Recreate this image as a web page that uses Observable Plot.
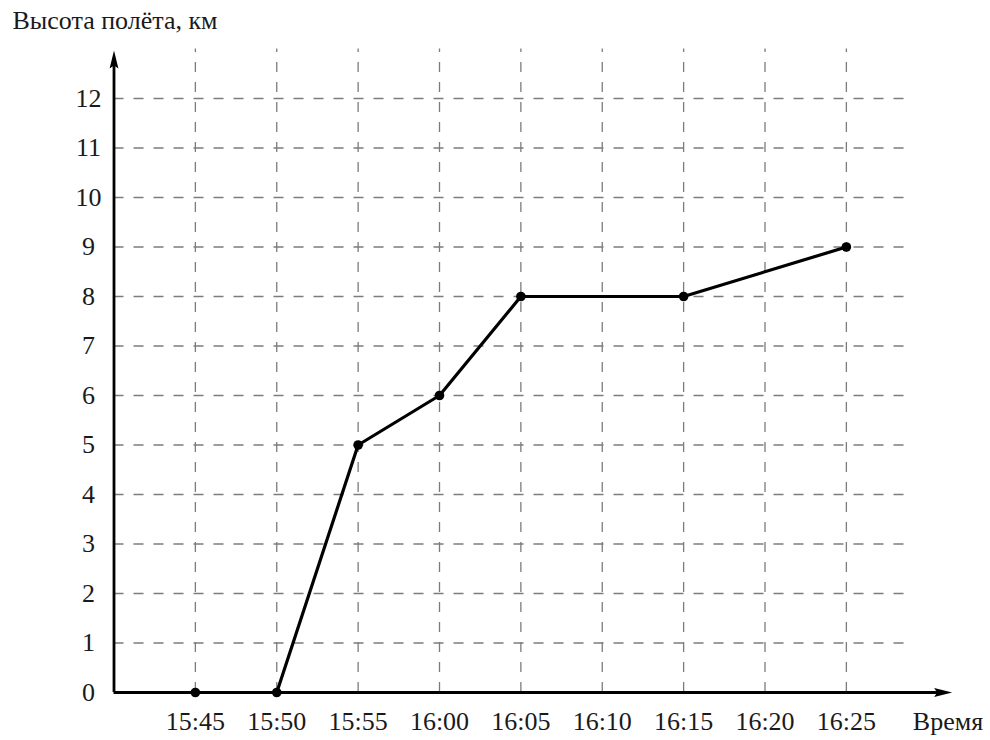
<!DOCTYPE html>
<html>
<head>
<meta charset="utf-8">
<script src="https://cdn.jsdelivr.net/npm/d3@7"></script>
<script src="https://cdn.jsdelivr.net/npm/@observablehq/plot@0.6"></script>
<style>
  html, body { margin: 0; padding: 0; background: #fff; }
  #chart svg, #chart svg text { font-family: "Liberation Serif", "Times New Roman", "DejaVu Serif", serif !important; }
</style>
</head>
<body>
<div id="chart"></div>
<script>
// Data
const times = ["15:45", "15:50", "15:55", "16:00", "16:05", "16:15", "16:25"];
const heights = [0, 0, 5, 6, 8, 8, 9];
const xTickLabels = ["15:45", "15:50", "15:55", "16:00", "16:05", "16:10", "16:15", "16:20", "16:25"];
const yTicks = [0, 1, 2, 3, 4, 5, 6, 7, 8, 9, 10, 11, 12];
const title = "Высота полёта, км";
const xTitle = "Время";

// minutes since 15:40 (origin of the axes)
const toMin = s => { const [h, m] = s.split(":").map(Number); return (h - 15) * 60 + m - 40; };
const data = times.map((t, i) => ({ x: toMin(t), y: heights[i] }));
const xTicks = xTickLabels.map((s) => ({ x: toMin(s), label: s }));

const xMax = 52, yMax = 13;
const gridXEnd = 48.6;   // horizontal grid end (minutes)
const axisXEnd = 51.5;   // x-axis arrow tip
const axisYEnd = 12.97;  // y-axis arrow tip

const font = "Liberation Serif";
const fs = 26;
const ink = "#1a1a1a";

// narrow filled arrowhead, tip at the anchor point, pointing up
const arrowHead = {
  draw(context) {
    context.moveTo(0, 0);
    context.lineTo(4.4, 18);
    context.lineTo(0, 15);
    context.lineTo(-4.4, 18);
    context.closePath();
  }
};

const W = 990, H = 740, left = 113.5, bottom = 48;
const pxPerMin = 16.275, pxPerKm = 49.5;

const chart = Plot.plot({
  width: W,
  height: H,
  marginLeft: left,
  marginBottom: bottom,
  marginTop: H - bottom - yMax * pxPerKm,
  marginRight: W - left - xMax * pxPerMin,
  x: { domain: [0, xMax], axis: null },
  y: { domain: [0, yMax], axis: null },
  style: { fontFamily: font, fontSize: fs + "px", color: ink, background: "#fff" },
  marks: [
    // grid
    Plot.ruleY(yTicks.filter(d => d > 0), { x1: 0, x2: gridXEnd, stroke: "#7c7c7c", strokeWidth: 1.3, strokeDasharray: "10,10" }),
    Plot.ruleX(xTicks, { x: "x", y1: 0, y2: yMax, stroke: "#7c7c7c", strokeWidth: 1.3, strokeDasharray: "10,10" }),
    // axes with arrows
    Plot.ruleY([0], { x1: 0, x2: axisXEnd - 0.6, stroke: "black", strokeWidth: 2.8 }),
    Plot.ruleX([0], { y1: 0, y2: axisYEnd - 0.25, stroke: "black", strokeWidth: 2.8 }),
    Plot.dot([{ x: axisXEnd, y: 0 }], { x: "x", y: "y", symbol: arrowHead, r: 5, fill: "black", stroke: "none", rotate: 90 }),
    Plot.dot([{ x: 0, y: axisYEnd }], { x: "x", y: "y", symbol: arrowHead, r: 5, fill: "black", stroke: "none" }),
    // tick labels
    Plot.text(xTicks, { x: "x", y: 0, dy: 29, text: "label", textAnchor: "middle", fontSize: fs, fontFamily: font, fill: ink }),
    Plot.text(yTicks, { x: 0, y: d => d, dx: -25.5, text: d => String(d), textAnchor: "middle", fontSize: fs, fontFamily: font, fill: ink }),
    // data
    Plot.line(data, { x: "x", y: "y", stroke: "black", strokeWidth: 3.2 }),
    Plot.dot(data, { x: "x", y: "y", r: 4.8, fill: "black" }),
    // titles
    Plot.text([title], { x: -6.24, y: 13.58, text: d => d, textAnchor: "start", fontSize: fs, fontFamily: font, fill: ink }),
    Plot.text([xTitle], { x: 51.24, y: 0, dy: 29, text: d => d, textAnchor: "middle", fontSize: fs, fontFamily: font, fill: ink })
  ]
});
document.getElementById("chart").appendChild(chart);
</script>
</body>
</html>
